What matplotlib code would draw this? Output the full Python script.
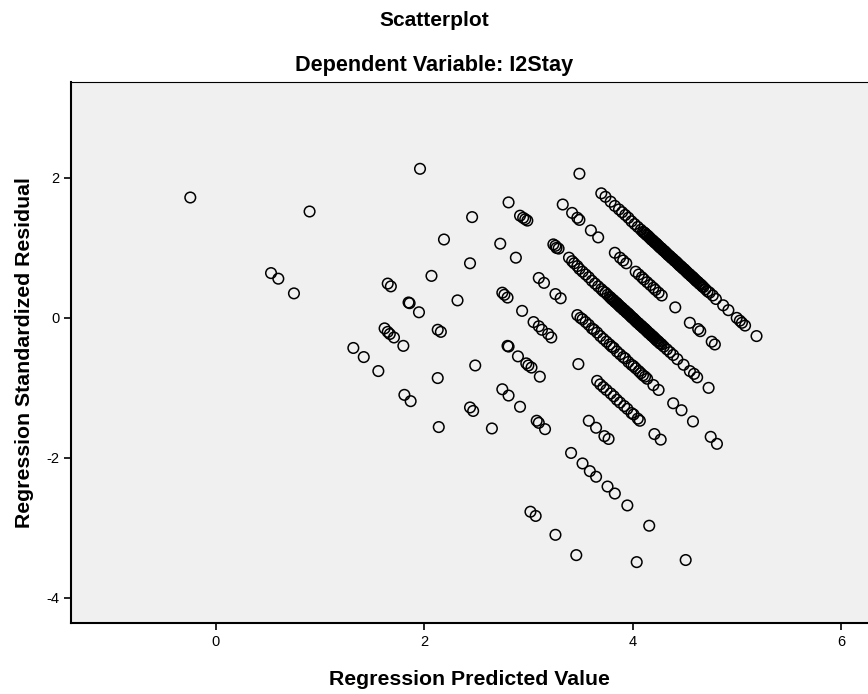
import matplotlib
matplotlib.use("Agg")
import matplotlib.pyplot as plt

# values, grouped by the diagonal bands of the plot
# band a (top band)
band_a_pred = [3.49, 3.70, 3.74, 3.79, 3.83, 3.87, 3.90, 3.93, 3.96, 3.99, 4.02, 4.05,
               4.08, 4.10, 4.12, 4.14, 4.16, 4.18, 4.20, 4.22, 4.24, 4.26, 4.28, 4.30,
               4.32, 4.34, 4.36, 4.38, 4.40, 4.42, 4.44, 4.46, 4.48, 4.50, 4.52, 4.54,
               4.56, 4.58, 4.60, 4.62, 4.64, 4.66, 4.68, 4.70, 4.72, 4.74, 4.77, 4.80,
               4.87, 4.92, 5.00, 5.03, 5.05, 5.08, 5.19]
band_a_resid = [2.06, 1.78, 1.73, 1.66, 1.60, 1.55, 1.51, 1.47, 1.43, 1.38, 1.34, 1.30,
                1.26, 1.23, 1.21, 1.18, 1.15, 1.12, 1.10, 1.07, 1.04, 1.01, 0.99, 0.96,
                0.93, 0.90, 0.88, 0.85, 0.82, 0.80, 0.77, 0.74, 0.71, 0.69, 0.66, 0.63,
                0.60, 0.58, 0.55, 0.52, 0.49, 0.47, 0.44, 0.41, 0.38, 0.36, 0.32, 0.27,
                0.18, 0.11, 0.00, -0.04, -0.07, -0.11, -0.26]
# the solid black stretch of band a
band_a_dense_pred = [4.11, 4.13, 4.15, 4.17, 4.19, 4.21, 4.23, 4.25, 4.27, 4.29, 4.31, 4.33,
                     4.35, 4.37, 4.39, 4.41, 4.43, 4.45, 4.47, 4.49, 4.51, 4.53, 4.55, 4.57,
                     4.59, 4.61, 4.63, 4.65, 4.67]
band_a_dense_resid = [1.22, 1.19, 1.17, 1.14, 1.11, 1.08, 1.06, 1.03, 1.00, 0.97, 0.95, 0.92,
                      0.89, 0.86, 0.84, 0.81, 0.78, 0.75, 0.73, 0.70, 0.67, 0.64, 0.62, 0.59,
                      0.56, 0.53, 0.51, 0.48, 0.45]

# band b
band_b_pred = [3.33, 3.42, 3.47, 3.49, 3.60, 3.67, 3.83, 3.88, 3.91, 3.94, 4.03, 4.06,
               4.09, 4.11, 4.14, 4.17, 4.20, 4.22, 4.25, 4.28, 4.41, 4.55, 4.63, 4.65,
               4.76, 4.79]
band_b_resid = [1.62, 1.50, 1.43, 1.40, 1.25, 1.15, 0.93, 0.86, 0.82, 0.78, 0.66, 0.62,
                0.58, 0.55, 0.51, 0.47, 0.43, 0.40, 0.36, 0.32, 0.15, -0.07, -0.16, -0.19,
                -0.34, -0.38]

# band c
band_c_pred = [2.81, 2.92, 2.95, 2.97, 2.99, 3.24, 3.26, 3.27, 3.29, 3.39, 3.42, 3.44,
               3.47, 3.49, 3.52, 3.55, 3.58, 3.61, 3.64, 3.67, 3.70, 3.72, 3.74, 3.76,
               3.78, 3.80, 3.82, 3.84, 3.86, 3.88, 3.90, 3.92, 3.94, 3.96, 3.98, 4.00,
               4.02, 4.04, 4.06, 4.08, 4.10, 4.12, 4.14, 4.16, 4.18, 4.20, 4.22, 4.24,
               4.26, 4.28, 4.30, 4.33, 4.36, 4.39, 4.43, 4.49, 4.55, 4.59, 4.62, 4.73]
band_c_resid = [1.65, 1.46, 1.43, 1.41, 1.39, 1.05, 1.03, 1.00, 0.99, 0.86, 0.81, 0.78,
                0.74, 0.70, 0.66, 0.62, 0.58, 0.53, 0.49, 0.45, 0.41, 0.38, 0.36, 0.33,
                0.30, 0.27, 0.25, 0.22, 0.19, 0.16, 0.14, 0.11, 0.08, 0.06, 0.03, 0.00,
                -0.03, -0.06, -0.08, -0.11, -0.14, -0.16, -0.19, -0.22, -0.25, -0.27, -0.30, -0.33,
                -0.36, -0.38, -0.41, -0.45, -0.49, -0.53, -0.59, -0.67, -0.76, -0.80, -0.85, -1.00]
# the solid black stretch of band c
band_c_dense_pred = [3.79, 3.81, 3.83, 3.85, 3.87, 3.89, 3.91, 3.93, 3.95, 3.97, 3.99, 4.01,
                     4.03, 4.05, 4.07, 4.09, 4.11, 4.13, 4.15, 4.17, 4.19, 4.21, 4.23, 4.25,
                     4.27]
band_c_dense_resid = [0.29, 0.26, 0.23, 0.21, 0.18, 0.15, 0.12, 0.10, 0.07, 0.04, 0.01, -0.01,
                      -0.04, -0.07, -0.10, -0.12, -0.15, -0.18, -0.21, -0.23, -0.26, -0.29, -0.32, -0.34,
                      -0.37]

# band d
band_d_pred = [1.96, 2.46, 2.73, 2.88, 3.10, 3.15, 3.26, 3.31, 3.47, 3.50, 3.52, 3.55,
               3.58, 3.61, 3.63, 3.66, 3.69, 3.72, 3.75, 3.78, 3.80, 3.82, 3.85, 3.88,
               3.91, 3.93, 3.96, 3.99, 4.01, 4.03, 4.06, 4.08, 4.10, 4.12, 4.14, 4.20,
               4.25, 4.39, 4.47, 4.58, 4.75, 4.81]
band_d_resid = [2.13, 1.44, 1.06, 0.86, 0.57, 0.50, 0.34, 0.28, 0.04, 0.00, -0.02, -0.06,
                -0.10, -0.15, -0.17, -0.21, -0.26, -0.30, -0.34, -0.38, -0.41, -0.43, -0.48, -0.52,
                -0.56, -0.58, -0.63, -0.67, -0.69, -0.72, -0.76, -0.79, -0.82, -0.84, -0.87, -0.96,
                -1.03, -1.22, -1.32, -1.48, -1.70, -1.80]

# band e
band_e_pred = [2.19, 2.44, 2.75, 2.77, 2.80, 2.94, 3.05, 3.10, 3.13, 3.19, 3.22, 3.48,
               3.66, 3.69, 3.72, 3.75, 3.79, 3.82, 3.85, 3.88, 3.92, 3.95, 3.99, 4.01,
               4.05, 4.07, 4.21, 4.27]
band_e_resid = [1.12, 0.78, 0.36, 0.33, 0.29, 0.10, -0.06, -0.12, -0.17, -0.23, -0.28, -0.66,
                -0.90, -0.95, -0.99, -1.03, -1.08, -1.12, -1.17, -1.21, -1.26, -1.30, -1.36, -1.38,
                -1.44, -1.47, -1.66, -1.74]

# band f
band_f_pred = [2.07, 2.32, 2.80, 2.81, 2.90, 2.98, 3.00, 3.03, 3.11, 3.58, 3.65, 3.73, 3.77]
band_f_resid = [0.60, 0.25, -0.40, -0.41, -0.55, -0.65, -0.68, -0.71, -0.84, -1.47, -1.57, -1.69, -1.73]

# band g
band_g_pred = [0.90, 1.65, 1.68, 1.85, 1.86, 1.95, 2.13, 2.16, 2.49, 2.75, 2.81, 2.92,
               3.08, 3.10, 3.16, 3.41, 3.52, 3.59, 3.65, 3.76, 3.83, 3.95, 4.16, 4.51]
band_g_resid = [1.52, 0.49, 0.45, 0.22, 0.21, 0.08, -0.17, -0.20, -0.68, -1.02, -1.11, -1.27,
                -1.47, -1.50, -1.59, -1.93, -2.08, -2.19, -2.27, -2.41, -2.51, -2.68, -2.97, -3.46]

# band h
band_h_pred = [1.62, 1.65, 1.67, 1.71, 1.80, 2.13, 2.44, 2.47, 2.65, 4.04]
band_h_resid = [-0.15, -0.20, -0.23, -0.28, -0.40, -0.86, -1.28, -1.33, -1.58, -3.49]

# band i (lowest band)
band_i_pred = [-0.245, 0.53, 0.60, 0.75, 1.32, 1.42, 1.56, 1.81, 1.87, 2.14, 3.02, 3.07,
               3.26, 3.46]
band_i_resid = [1.72, 0.64, 0.56, 0.35, -0.43, -0.56, -0.76, -1.10, -1.19, -1.56, -2.77, -2.83,
                -3.10, -3.39]

pred = (band_a_pred + band_a_dense_pred + band_b_pred + band_c_pred + band_c_dense_pred
        + band_d_pred + band_e_pred + band_f_pred + band_g_pred + band_h_pred + band_i_pred)
resid = (band_a_resid + band_a_dense_resid + band_b_resid + band_c_resid + band_c_dense_resid
         + band_d_resid + band_e_resid + band_f_resid + band_g_resid + band_h_resid + band_i_resid)

x_ticks = [0, 2, 4, 6]
y_ticks = [-4, -2, 0, 2]

plt.rcParams['font.family'] = ['Liberation Sans', 'DejaVu Sans']
plt.rcParams['axes.unicode_minus'] = False

fig = plt.figure(figsize=(8.68, 6.94), dpi=100)
ax = fig.add_axes([0.0818, 0.1023, 0.9182, 0.7795])
ax.set_facecolor('#f0f0f0')

ax.scatter(pred, resid, s=58, facecolors='none', edgecolors='black', linewidths=1.1)

ax.set_xlim(-1.39, 6.26)
ax.set_ylim(-4.36, 3.37)
ax.set_xticks(x_ticks)
ax.set_yticks(y_ticks)
ax.tick_params(direction='out', length=5, width=1.2, labelsize=10.5, color='black')

for side in ['left', 'bottom']:
    ax.spines[side].set_linewidth(1.5)
ax.spines['top'].set_linewidth(0.8)
ax.spines['right'].set_visible(False)

ax.set_xlabel('Regression Predicted Value', fontsize=15.3, fontweight='bold', labelpad=15)
ax.set_ylabel('Regression Standardized Residual', fontsize=15.3, fontweight='bold', labelpad=9)

fig.text(0.5, 0.971, 'Scatterplot', ha='center', va='center', fontsize=15, fontweight='bold')
fig.text(0.5, 0.906, 'Dependent Variable: I2Stay', ha='center', va='center', fontsize=15.6, fontweight='bold')

fig.savefig('out.png', dpi=100)
